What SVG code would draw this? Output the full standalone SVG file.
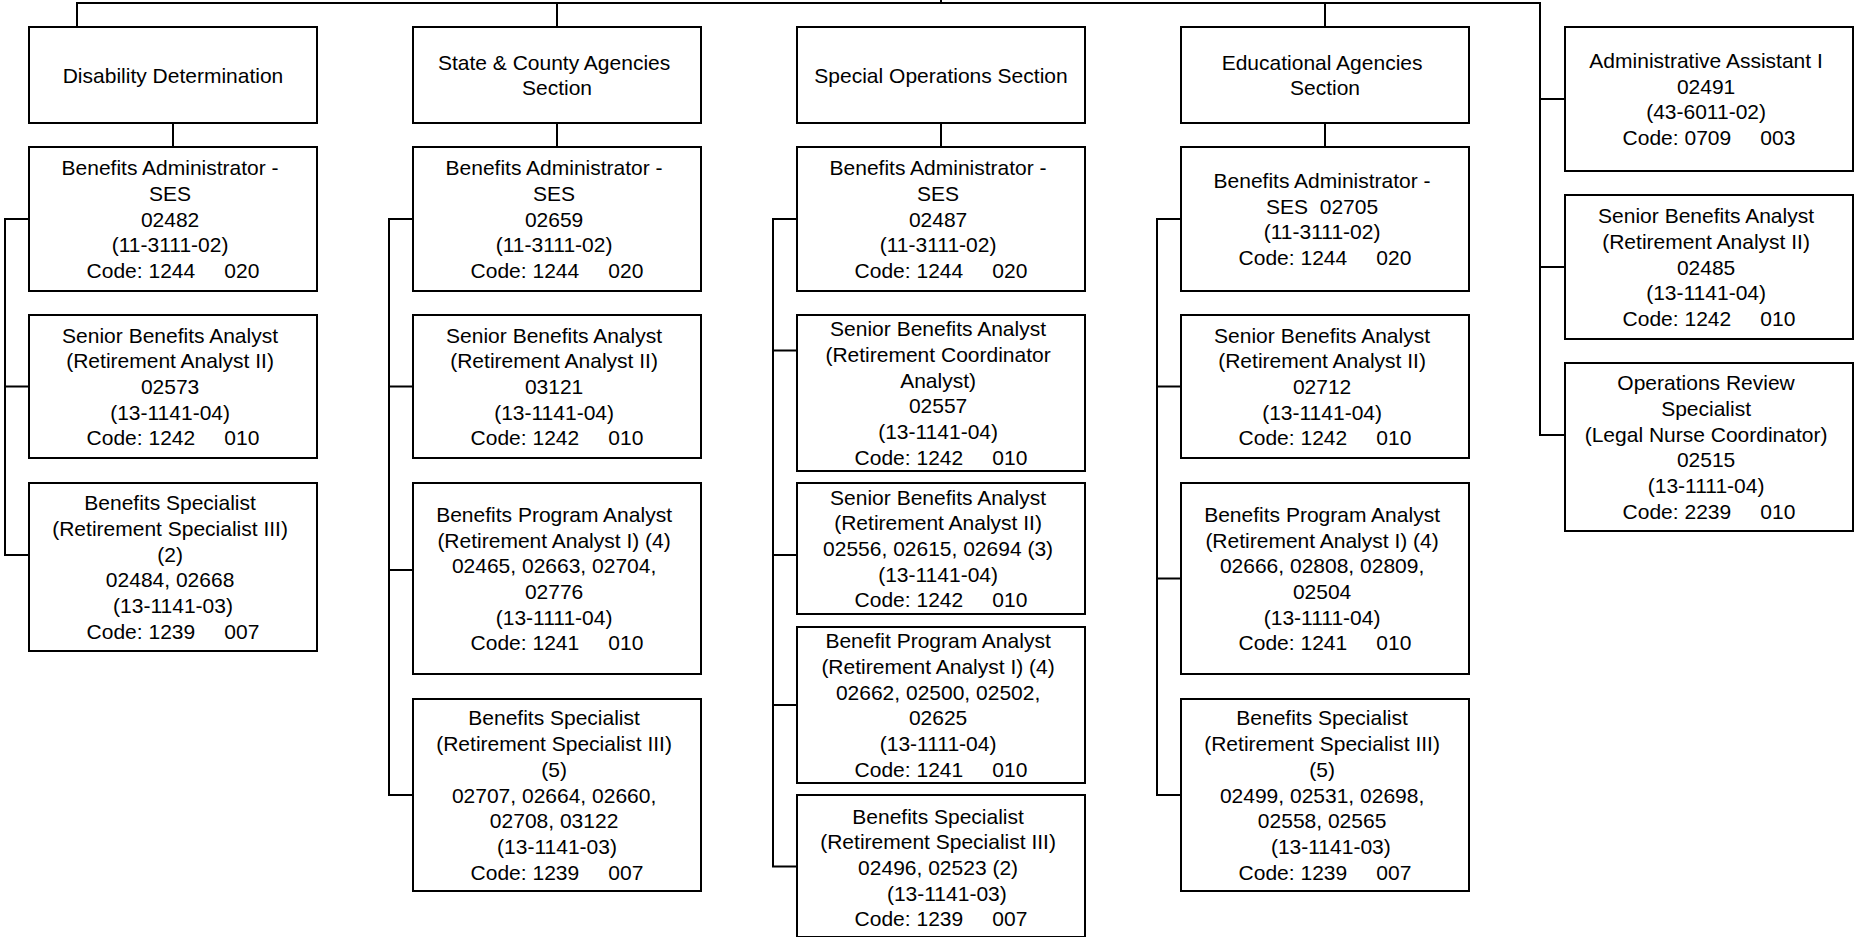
<svg xmlns="http://www.w3.org/2000/svg" width="1860" height="937" viewBox="0 0 1860 937">
  <style>
    .box { fill: #ffffff; stroke: #000000; stroke-width: 2; }
    .wire { fill: none; stroke: #000000; stroke-width: 2; stroke-linejoin: miter; }
    text { font-family: "Liberation Sans", Arial, Helvetica, sans-serif; font-size: 21px; fill: #000000; text-anchor: middle; }
  </style>
  <rect x="0" y="0" width="1860" height="937" fill="#ffffff"/>

  <!-- connectors -->
  <g id="connectors" class="wire">
    <path d="M941,0 V3"/>
    <path d="M77,27 V3 H1540 V435 H1565"/>
    <path d="M1540,99 H1565 M1540,267 H1565"/>
    <path d="M557,3 V27 M1325,3 V27"/>
    <path d="M173,123 V147 M557,123 V147 M941,123 V147 M1325,123 V147"/>
    <path d="M29,219 H5 V555 H29 M5,386.5 H29"/>
    <path d="M413,219 H389 V795 H413 M389,386.5 H413 M389,570 H413"/>
    <path d="M797,219 H773 V866.5 H797 M773,350.5 H797 M773,555 H797 M773,705 H797"/>
    <path d="M1181,219 H1157 V795 H1181 M1157,386.5 H1181 M1157,578.5 H1181"/>
  </g>

  <!-- Disability Determination column -->
  <g id="disability-determination">
    <rect class="box" x="29" y="27" width="288" height="96"/>
    <text><tspan x="173" y="82.5">Disability Determination</tspan></text>
  </g>
  <g id="dd-benefits-administrator">
    <rect class="box" x="29" y="147" width="288" height="144"/>
    <text>
      <tspan x="173" y="175.1">Benefits Administrator -</tspan>
      <tspan x="173" y="200.8">SES</tspan>
      <tspan x="173" y="226.5">02482</tspan>
      <tspan x="173" y="252.2">(11-3111-02)</tspan>
      <tspan x="173" y="277.9">Code: 1244&#160;&#160;&#160;&#160;&#160;020</tspan>
    </text>
  </g>
  <g id="dd-senior-benefits-analyst">
    <rect class="box" x="29" y="315" width="288" height="143"/>
    <text>
      <tspan x="173" y="342.6">Senior Benefits Analyst</tspan>
      <tspan x="173" y="368.3">(Retirement Analyst II)</tspan>
      <tspan x="173" y="394">02573</tspan>
      <tspan x="173" y="419.7">(13-1141-04)</tspan>
      <tspan x="173" y="445.4">Code: 1242&#160;&#160;&#160;&#160;&#160;010</tspan>
    </text>
  </g>
  <g id="dd-benefits-specialist">
    <rect class="box" x="29" y="483" width="288" height="168"/>
    <text>
      <tspan x="173" y="510.3">Benefits Specialist</tspan>
      <tspan x="173" y="536">(Retirement Specialist III)</tspan>
      <tspan x="173" y="561.7">(2)</tspan>
      <tspan x="173" y="587.4">02484, 02668</tspan>
      <tspan x="173" y="613.1">&#160;(13-1141-03)</tspan>
      <tspan x="173" y="638.8">Code: 1239&#160;&#160;&#160;&#160;&#160;007</tspan>
    </text>
  </g>

  <!-- State & County Agencies column -->
  <g id="state-county-agencies">
    <rect class="box" x="413" y="27" width="288" height="96"/>
    <text>
      <tspan x="557" y="69.7">State &amp; County Agencies</tspan>
      <tspan x="557" y="95.4">Section</tspan>
    </text>
  </g>
  <g id="sc-benefits-administrator">
    <rect class="box" x="413" y="147" width="288" height="144"/>
    <text>
      <tspan x="557" y="175.1">Benefits Administrator -</tspan>
      <tspan x="557" y="200.8">SES</tspan>
      <tspan x="557" y="226.5">02659</tspan>
      <tspan x="557" y="252.2">(11-3111-02)</tspan>
      <tspan x="557" y="277.9">Code: 1244&#160;&#160;&#160;&#160;&#160;020</tspan>
    </text>
  </g>
  <g id="sc-senior-benefits-analyst">
    <rect class="box" x="413" y="315" width="288" height="143"/>
    <text>
      <tspan x="557" y="342.6">Senior Benefits Analyst</tspan>
      <tspan x="557" y="368.3">(Retirement Analyst II)</tspan>
      <tspan x="557" y="394">03121</tspan>
      <tspan x="557" y="419.7">(13-1141-04)</tspan>
      <tspan x="557" y="445.4">Code: 1242&#160;&#160;&#160;&#160;&#160;010</tspan>
    </text>
  </g>
  <g id="sc-benefits-program-analyst">
    <rect class="box" x="413" y="483" width="288" height="191"/>
    <text>
      <tspan x="557" y="521.8">Benefits Program Analyst</tspan>
      <tspan x="557" y="547.5">(Retirement Analyst I) (4)</tspan>
      <tspan x="557" y="573.2">02465, 02663, 02704,</tspan>
      <tspan x="557" y="598.9">02776</tspan>
      <tspan x="557" y="624.6">(13-1111-04)</tspan>
      <tspan x="557" y="650.3">Code: 1241&#160;&#160;&#160;&#160;&#160;010</tspan>
    </text>
  </g>
  <g id="sc-benefits-specialist">
    <rect class="box" x="413" y="699" width="288" height="192"/>
    <text>
      <tspan x="557" y="725.4">Benefits Specialist</tspan>
      <tspan x="557" y="751.1">(Retirement Specialist III)</tspan>
      <tspan x="557" y="776.8">(5)</tspan>
      <tspan x="557" y="802.5">02707, 02664, 02660,</tspan>
      <tspan x="557" y="828.2">02708, 03122</tspan>
      <tspan x="557" y="853.9">&#160;(13-1141-03)</tspan>
      <tspan x="557" y="879.6">Code: 1239&#160;&#160;&#160;&#160;&#160;007</tspan>
    </text>
  </g>

  <!-- Special Operations column -->
  <g id="special-operations">
    <rect class="box" x="797" y="27" width="288" height="96"/>
    <text><tspan x="941" y="82.5">Special Operations Section</tspan></text>
  </g>
  <g id="so-benefits-administrator">
    <rect class="box" x="797" y="147" width="288" height="144"/>
    <text>
      <tspan x="941" y="175.1">Benefits Administrator -</tspan>
      <tspan x="941" y="200.8">SES</tspan>
      <tspan x="941" y="226.5">02487</tspan>
      <tspan x="941" y="252.2">(11-3111-02)</tspan>
      <tspan x="941" y="277.9">Code: 1244&#160;&#160;&#160;&#160;&#160;020</tspan>
    </text>
  </g>
  <g id="so-senior-benefits-analyst-coordinator">
    <rect class="box" x="797" y="315" width="288" height="156"/>
    <text>
      <tspan x="941" y="336.3">Senior Benefits Analyst</tspan>
      <tspan x="941" y="362">(Retirement Coordinator</tspan>
      <tspan x="941" y="387.7">Analyst)</tspan>
      <tspan x="941" y="413.4">02557</tspan>
      <tspan x="941" y="439.1">(13-1141-04)</tspan>
      <tspan x="941" y="464.8">Code: 1242&#160;&#160;&#160;&#160;&#160;010</tspan>
    </text>
  </g>
  <g id="so-senior-benefits-analyst">
    <rect class="box" x="797" y="483" width="288" height="131"/>
    <text>
      <tspan x="941" y="504.6">Senior Benefits Analyst</tspan>
      <tspan x="941" y="530.3">(Retirement Analyst II)</tspan>
      <tspan x="941" y="556">02556, 02615, 02694 (3)</tspan>
      <tspan x="941" y="581.7">(13-1141-04)</tspan>
      <tspan x="941" y="607.4">Code: 1242&#160;&#160;&#160;&#160;&#160;010</tspan>
    </text>
  </g>
  <g id="so-benefit-program-analyst">
    <rect class="box" x="797" y="627" width="288" height="156"/>
    <text>
      <tspan x="941" y="648.3">Benefit Program Analyst</tspan>
      <tspan x="941" y="674">(Retirement Analyst I) (4)</tspan>
      <tspan x="941" y="699.7">02662, 02500, 02502,</tspan>
      <tspan x="941" y="725.4">02625</tspan>
      <tspan x="941" y="751.1">(13-1111-04)</tspan>
      <tspan x="941" y="776.8">Code: 1241&#160;&#160;&#160;&#160;&#160;010</tspan>
    </text>
  </g>
  <g id="so-benefits-specialist">
    <rect class="box" x="797" y="795" width="288" height="142"/>
    <text>
      <tspan x="941" y="823.6">Benefits Specialist</tspan>
      <tspan x="941" y="849.3">(Retirement Specialist III)</tspan>
      <tspan x="941" y="875">02496, 02523 (2)</tspan>
      <tspan x="941" y="900.7">&#160;&#160;&#160;(13-1141-03)</tspan>
      <tspan x="941" y="926.4">Code: 1239&#160;&#160;&#160;&#160;&#160;007</tspan>
    </text>
  </g>

  <!-- Educational Agencies column -->
  <g id="educational-agencies">
    <rect class="box" x="1181" y="27" width="288" height="96"/>
    <text>
      <tspan x="1325" y="69.7">Educational Agencies</tspan>
      <tspan x="1325" y="95.4">Section</tspan>
    </text>
  </g>
  <g id="ea-benefits-administrator">
    <rect class="box" x="1181" y="147" width="288" height="144"/>
    <text>
      <tspan x="1325" y="188">Benefits Administrator -</tspan>
      <tspan x="1325" y="213.7">SES&#160;&#160;02705</tspan>
      <tspan x="1325" y="239.4">(11-3111-02)</tspan>
      <tspan x="1325" y="265.1">Code: 1244&#160;&#160;&#160;&#160;&#160;020</tspan>
    </text>
  </g>
  <g id="ea-senior-benefits-analyst">
    <rect class="box" x="1181" y="315" width="288" height="143"/>
    <text>
      <tspan x="1325" y="342.6">Senior Benefits Analyst</tspan>
      <tspan x="1325" y="368.3">(Retirement Analyst II)</tspan>
      <tspan x="1325" y="394">02712</tspan>
      <tspan x="1325" y="419.7">(13-1141-04)</tspan>
      <tspan x="1325" y="445.4">Code: 1242&#160;&#160;&#160;&#160;&#160;010</tspan>
    </text>
  </g>
  <g id="ea-benefits-program-analyst">
    <rect class="box" x="1181" y="483" width="288" height="191"/>
    <text>
      <tspan x="1325" y="521.8">Benefits Program Analyst</tspan>
      <tspan x="1325" y="547.5">(Retirement Analyst I) (4)</tspan>
      <tspan x="1325" y="573.2">02666, 02808, 02809,</tspan>
      <tspan x="1325" y="598.9">02504</tspan>
      <tspan x="1325" y="624.6">(13-1111-04)</tspan>
      <tspan x="1325" y="650.3">Code: 1241&#160;&#160;&#160;&#160;&#160;010</tspan>
    </text>
  </g>
  <g id="ea-benefits-specialist">
    <rect class="box" x="1181" y="699" width="288" height="192"/>
    <text>
      <tspan x="1325" y="725.4">Benefits Specialist</tspan>
      <tspan x="1325" y="751.1">(Retirement Specialist III)</tspan>
      <tspan x="1325" y="776.8">(5)</tspan>
      <tspan x="1325" y="802.5">02499, 02531, 02698,</tspan>
      <tspan x="1325" y="828.2">02558, 02565</tspan>
      <tspan x="1325" y="853.9">&#160;&#160;&#160;(13-1141-03)</tspan>
      <tspan x="1325" y="879.6">Code: 1239&#160;&#160;&#160;&#160;&#160;007</tspan>
    </text>
  </g>

  <!-- Staff reporting directly -->
  <g id="administrative-assistant">
    <rect class="box" x="1565" y="27" width="288" height="144"/>
    <text>
      <tspan x="1709" y="68">Administrative Assistant I</tspan>
      <tspan x="1709" y="93.7">02491</tspan>
      <tspan x="1709" y="119.4">(43-6011-02)</tspan>
      <tspan x="1709" y="145.1">Code: 0709&#160;&#160;&#160;&#160;&#160;003</tspan>
    </text>
  </g>
  <g id="staff-senior-benefits-analyst">
    <rect class="box" x="1565" y="195" width="288" height="144"/>
    <text>
      <tspan x="1709" y="223.1">Senior Benefits Analyst</tspan>
      <tspan x="1709" y="248.8">(Retirement Analyst II)</tspan>
      <tspan x="1709" y="274.5">02485</tspan>
      <tspan x="1709" y="300.2">(13-1141-04)</tspan>
      <tspan x="1709" y="325.9">Code: 1242&#160;&#160;&#160;&#160;&#160;010</tspan>
    </text>
  </g>
  <g id="operations-review-specialist">
    <rect class="box" x="1565" y="363" width="288" height="168"/>
    <text>
      <tspan x="1709" y="390.3">Operations Review</tspan>
      <tspan x="1709" y="416">Specialist</tspan>
      <tspan x="1709" y="441.7">(Legal Nurse Coordinator)</tspan>
      <tspan x="1709" y="467.4">02515</tspan>
      <tspan x="1709" y="493.1">(13-1111-04)</tspan>
      <tspan x="1709" y="518.8">Code: 2239&#160;&#160;&#160;&#160;&#160;010</tspan>
    </text>
  </g>
</svg>
